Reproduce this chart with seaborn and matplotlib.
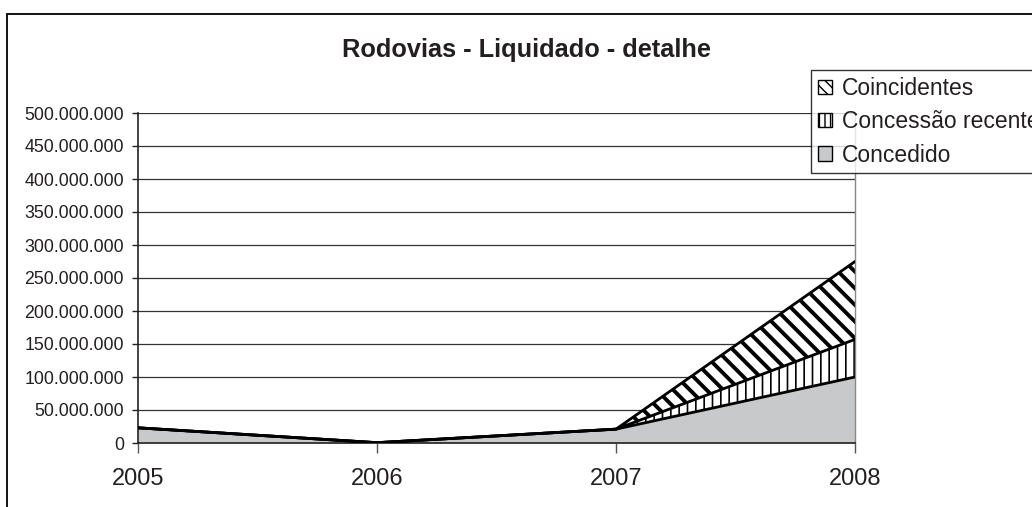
import numpy as np
import pandas as pd
import matplotlib
matplotlib.use("Agg")
import matplotlib.pyplot as plt
import seaborn as sns
from matplotlib.ticker import FuncFormatter
from matplotlib.patches import Rectangle, Patch

# dados
anos = [2005, 2006, 2007, 2008]
concedido = [23e6, 0.5e6, 21e6, 100e6]
concessao_recente = [0, 0, 0, 57e6]
coincidentes = [0, 0, 0, 118e6]
series = ["Concedido", "Concessão recente", "Coincidentes"]
yticks = list(range(0, 500_000_001, 50_000_000))

sns.set_theme(style="white")
plt.rcParams["font.family"] = ["Liberation Sans", "DejaVu Sans"]
txt = "#231f20"

df = pd.DataFrame({
    "ano": anos,
    "Concedido": concedido,
    "Concessão recente": concessao_recente,
    "Coincidentes": coincidentes,
})

fig = plt.figure(figsize=(10.32, 5.07), dpi=100)
ax = fig.add_axes([138 / 1032, 64 / 507, 717 / 1032, 330 / 507])

# estilo de cada camada
estilo = {
    "Concedido": dict(facecolor="#c8c9cb", hatch=None, hlw=1.0),
    "Concessão recente": dict(facecolor="white", hatch="||", hlw=1.2),
    "Coincidentes": dict(facecolor="white", hatch="\\\\", hlw=2.8),
}

base = np.zeros(len(anos))
for s in series:
    topo = base + df[s].to_numpy()
    st = estilo[s]
    with plt.rc_context({"hatch.linewidth": st["hlw"]}):
        poly = ax.fill_between(df["ano"], base, topo, facecolor=st["facecolor"],
                               edgecolor="black", linewidth=0, hatch=st["hatch"], zorder=2)
    if hasattr(poly, "set_hatch_linewidth"):
        poly.set_hatch_linewidth(st["hlw"])
    sns.lineplot(x=df["ano"], y=topo, color="black", lw=2, ax=ax, zorder=3)
    base = topo

ax.set_xlim(2005, 2008)
ax.set_ylim(0, 500e6)
ax.set_xticks(anos)
ax.set_xticklabels([str(a) for a in anos])
ax.set_yticks(yticks)
ax.yaxis.set_major_formatter(FuncFormatter(lambda v, p: f"{int(v):,}".replace(",", ".")))
ax.set_xlabel("")
ax.set_ylabel("")

ax.set_axisbelow(True)
ax.yaxis.grid(True, color="#333333", lw=0.9)
ax.xaxis.grid(False)
for lado in ["left", "bottom"]:
    ax.spines[lado].set_color("#222222")
    ax.spines[lado].set_linewidth(1.2)
ax.spines["right"].set_color("#888888")
ax.spines["right"].set_linewidth(1.0)
ax.spines["top"].set_visible(False)

ax.tick_params(axis="y", left=True, direction="out", length=4, width=1, color="#222222",
               labelsize=12.8, labelcolor=txt, pad=6)
ax.tick_params(axis="x", bottom=True, direction="out", length=7, width=1, color="#555555",
               labelsize=17, labelcolor=txt, pad=11)

fig.text(527 / 1032, 1 - 57 / 507, "Rodovias - Liquidado - detalhe", ha="center",
         va="baseline", fontsize=18.3, fontweight="bold", color=txt)

# legenda
handles = [
    Patch(facecolor="white", edgecolor="black", hatch="\\\\\\"),
    Patch(facecolor="white", edgecolor="black", hatch="|||"),
    Patch(facecolor="#c8c9cb", edgecolor="black"),
]
leg = fig.legend(handles, ["Coincidentes", "Concessão recente", "Concedido"],
                 loc="upper left", bbox_to_anchor=(811 / 1032, 1 - 70 / 507),
                 frameon=True, fancybox=False, shadow=False, edgecolor="black",
                 fontsize=16.5, handlelength=0.6, handleheight=0.6, handletextpad=0.45,
                 labelspacing=0.45, borderpad=0.3, borderaxespad=0)
leg.get_frame().set_linewidth(1.0)
for t in leg.get_texts():
    t.set_color(txt)

# moldura externa
fig.add_artist(Rectangle((7 / 1032, -0.1), 1.2, 1 - 14 / 507 + 0.1, transform=fig.transFigure,
                         fill=False, edgecolor="black", lw=1.3))

fig.savefig("out.png", dpi=100)
